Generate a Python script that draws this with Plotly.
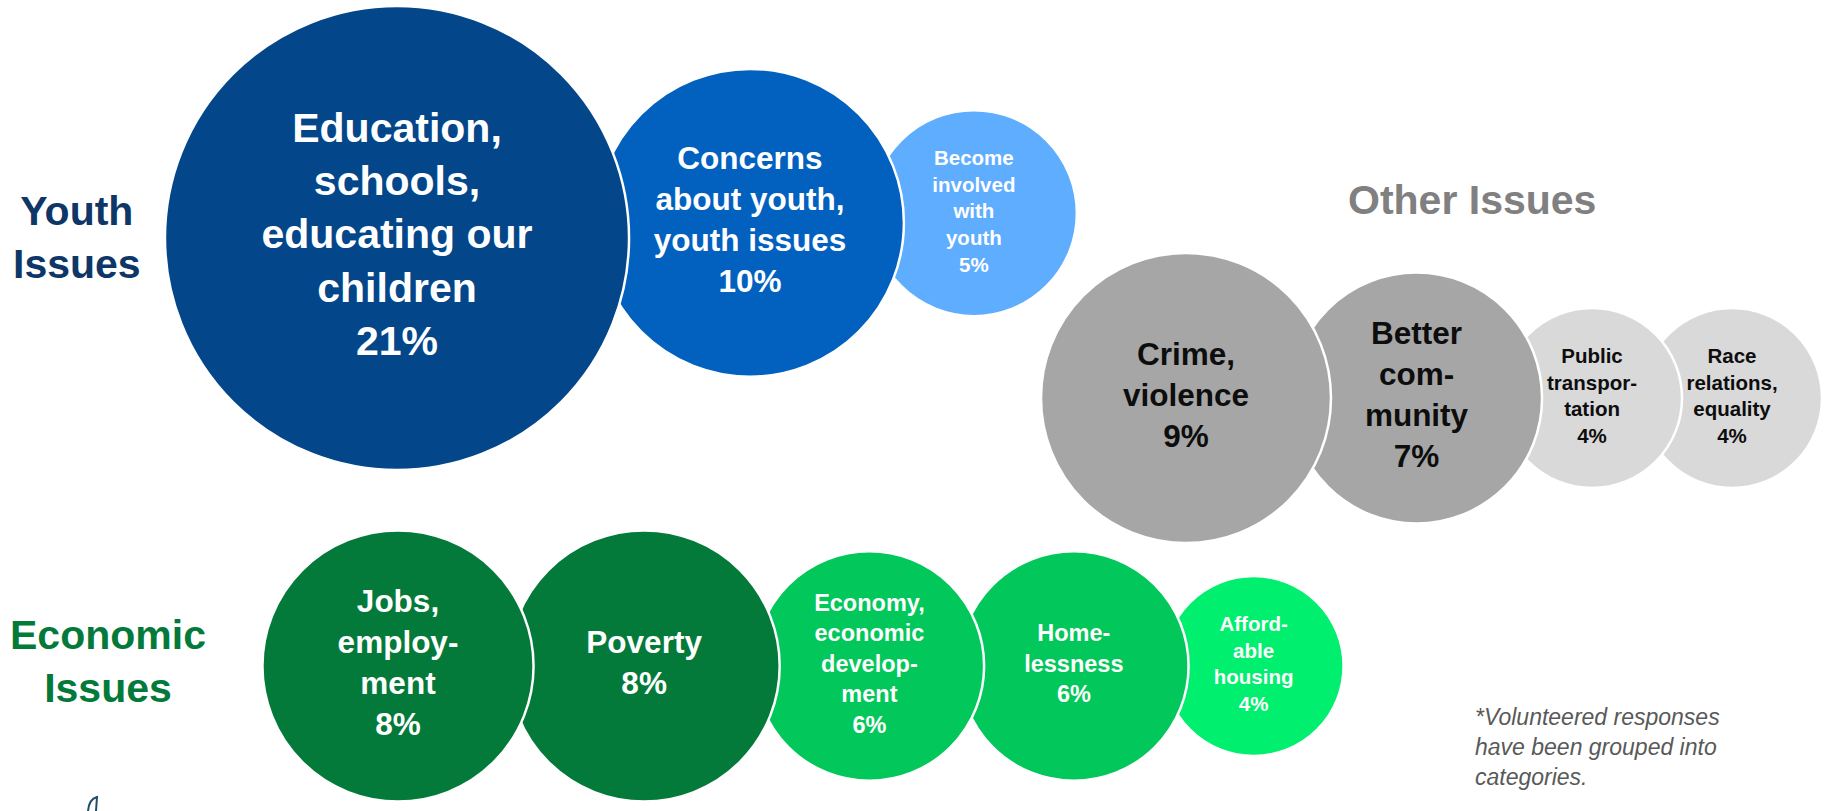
import math
import plotly.graph_objects as go

# ---- data -------------------------------------------------------------
youth_labels = [
    "Education,<br>schools,<br>educating our<br>children",
    "Concerns<br>about youth,<br>youth issues",
    "Become<br>involved<br>with<br>youth",
]
youth_values = [21, 10, 5]

other_labels = [
    "Crime,<br>violence",
    "Better<br>com-<br>munity",
    "Public<br>transpor-<br>tation",
    "Race<br>relations,<br>equality",
]
other_values = [9, 7, 4, 4]

econ_labels = [
    "Jobs,<br>employ-<br>ment",
    "Poverty",
    "Economy,<br>economic<br>develop-<br>ment",
    "Home-<br>lessness",
    "Afford-<br>able<br>housing",
]
econ_values = [8, 8, 6, 6, 4]

group_titles = ["Youth<br>Issues", "Other Issues", "Economic<br>Issues"]
footnote = "*Volunteered responses<br>have been grouped into<br>categories."

# ---- canvas / scales --------------------------------------------------
W, H = 1827, 811
FONT = "Liberation Sans, Arial, Helvetica, sans-serif"


def bubble_radius(v):
    # area-style (square-root) scale for the bubble radius, in px
    return 55.0 * math.sqrt(v) - 20.0


def label_size(r):
    if r > 200:
        return 41
    if r >= 125:
        return 31.5
    if r >= 110:
        return 23.5
    return 20.5


def chain_layout(values, x_first, y_first, overlap, tilt):
    """Place bubbles left to right, each one overlapping its neighbour."""
    radii = [bubble_radius(v) for v in values]
    xs = [x_first]
    for i in range(1, len(values)):
        xs.append(xs[-1] + radii[i - 1] + radii[i] - overlap)
    ys = [y_first + tilt * (x - x_first) for x in xs]
    return xs, ys, radii


groups = [
    dict(labels=youth_labels, values=youth_values,
         colors=["#03468A", "#0261BF", "#5EADFF"], text_color="white",
         row=dict(x_first=397, y_first=238, overlap=33, tilt=-0.043)),
    dict(labels=other_labels, values=other_values,
         colors=["#A6A6A6", "#A6A6A6", "#D9D9D9", "#D9D9D9"], text_color="#0D0D0D",
         row=dict(x_first=1186, y_first=398, overlap=40, tilt=0.0)),
    dict(labels=econ_labels, values=econ_values,
         colors=["#037A3A", "#037A3A", "#02C75A", "#02C75A", "#00EF6E"], text_color="white",
         row=dict(x_first=398, y_first=666, overlap=25, tilt=0.0)),
]

fig = go.Figure()

for g in groups:
    xs, ys, radii = chain_layout(g["values"], **g["row"])
    texts = [f"{lab}<br>{v}%" for lab, v in zip(g["labels"], g["values"])]
    sizes = [label_size(r) for r in radii]
    # reversed so that each bubble sits on top of the one to its right
    order = list(range(len(xs)))[::-1]
    fig.add_trace(go.Scatter(
        x=[xs[i] for i in order],
        y=[ys[i] for i in order],
        mode="markers+text",
        text=[texts[i] for i in order],
        textposition="middle center",
        textfont=dict(family=FONT, size=[sizes[i] for i in order],
                      color=g["text_color"], weight=700),
        marker=dict(
            size=[2 * radii[i] for i in order],
            sizemode="diameter",
            sizeref=1,
            color=[g["colors"][i] for i in order],
            opacity=1,
            line=dict(color="white", width=2.5),
        ),
        cliponaxis=False,
        hoverinfo="skip",
        showlegend=False,
    ))

annotations = [
    dict(x=77, y=237, text=group_titles[0], showarrow=False,
         font=dict(family=FONT, size=41, color="#0E3767", weight=700),
         xanchor="center", yanchor="middle", align="center"),
    dict(x=1472, y=200, text=group_titles[1], showarrow=False,
         font=dict(family=FONT, size=41, color="#808080", weight=700),
         xanchor="center", yanchor="middle", align="center"),
    dict(x=108, y=661, text=group_titles[2], showarrow=False,
         font=dict(family=FONT, size=41, color="#037A3A", weight=700),
         xanchor="center", yanchor="middle", align="center"),
    dict(x=1473, y=747, text=footnote, showarrow=False,
         font=dict(family=FONT, size=23, color="#595959", style="italic"),
         xanchor="left", yanchor="middle", align="left"),
]
for a in annotations:
    a.update(xref="x", yref="y")

fig.update_layout(
    width=W, height=H,
    margin=dict(l=0, r=0, t=0, b=0),
    paper_bgcolor="white",
    plot_bgcolor="white",
    xaxis=dict(range=[0, W], visible=False, fixedrange=True),
    yaxis=dict(range=[H, 0], visible=False, fixedrange=True),
    annotations=annotations,
    shapes=[
        # corner of the logo mark at the bottom left
        dict(type="path", xref="x", yref="y",
             path="M 88 811 Q 89 799 97 797 L 96 811",
             line=dict(color="#1F4E6B", width=2), fillcolor="rgba(0,0,0,0)"),
    ],
)

fig.write_html("out.html")
